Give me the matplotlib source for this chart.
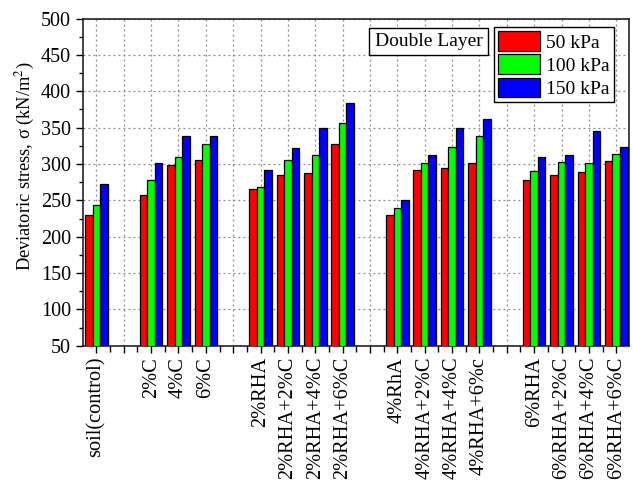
import numpy as np
import matplotlib
matplotlib.use('Agg')
import matplotlib.pyplot as plt

plt.rcParams['font.family'] = ['Liberation Serif', 'DejaVu Serif']
plt.rcParams['mathtext.fontset'] = 'stix'

# blank labels leave a gap between mix groups
labels = ['soil(control)', '', '2%C', '4%C', '6%C', '',
          '2%RHA', '2%RHA+2%C', '2%RHA+4%C', '2%RHA+6%C', '',
          '4%RhA', '4%RHA+2%C', '4%RHA+4%C', '4%RHA+6%c', '',
          '6%RHA', '6%RHA+2%C', '6%RHA+4%C', '6%RHA+6%C']
nan = np.nan
stress_50 = [230, nan, 258, 298, 306, nan, 265, 285, 287, 328, nan,
             230, 292, 294, 302, nan, 278, 285, 289, 304]
stress_100 = [244, nan, 278, 309, 327, nan, 268, 305, 312, 357, nan,
              240, 302, 323, 338, nan, 290, 303, 301, 314]
stress_150 = [272, nan, 301, 339, 339, nan, 292, 322, 349, 384, nan,
              250, 313, 350, 362, nan, 310, 313, 345, 323]
series = [('50 kPa', stress_50, '#ff0000'),
          ('100 kPa', stress_100, '#00ff00'),
          ('150 kPa', stress_150, '#0000ff')]

fig = plt.figure(figsize=(6.33, 4.84), dpi=100)
ax = fig.add_axes([0.1307, 0.2857, 0.8623, 0.6759])

x = np.arange(len(labels))
width = 0.275
for i, (name, vals, color) in enumerate(series):
    ax.bar(x + (i - 1) * width, vals, width, color=color, edgecolor='black',
           linewidth=0.9, label=name, zorder=3)

ax.set_xlim(-0.5, 19.45)
ax.set_ylim(50, 500)
ax.set_yticks(np.arange(50, 501, 50))
ax.set_yticks(np.arange(75, 500, 50), minor=True)
ax.set_xticks(x)
ax.set_xticks(x[:-1] + 0.5, minor=True)
ax.set_xticklabels(labels, rotation=90, fontsize=14.7)
ax.tick_params(axis='y', labelsize=14.5, length=5, width=1, direction='out')
ax.tick_params(axis='y', which='minor', length=3, width=1)
ax.tick_params(axis='x', length=5, width=1, direction='out', pad=3)
ax.tick_params(axis='x', which='minor', length=4, width=1)
ax.grid(True, color='#888888', linestyle=(0, (1.5, 2.5)), linewidth=0.9, zorder=0)
for s in ax.spines.values():
    s.set_linewidth(1.2)
    s.set_color('#222222')

ax.set_ylabel('Deviatoric stress, σ (kN/m$^2$)', fontsize=13.2)
ax.yaxis.set_label_coords(-0.084, 0.549)

leg = ax.legend(loc='upper right', bbox_to_anchor=(0.973, 0.973), fontsize=14,
                handlelength=2.2, handleheight=1.15, labelspacing=0.15,
                handletextpad=0.3, borderpad=0.2, borderaxespad=0,
                fancybox=False, framealpha=1, edgecolor='black')
leg.get_frame().set_linewidth(1.0)

ax.text(0.6335, 0.930, 'Double Layer', transform=ax.transAxes, fontsize=14,
        ha='center', va='center', zorder=5,
        bbox=dict(boxstyle='square,pad=0.27', facecolor='white',
                  edgecolor='black', linewidth=1.0))

fig.savefig('out.png', dpi=100)
